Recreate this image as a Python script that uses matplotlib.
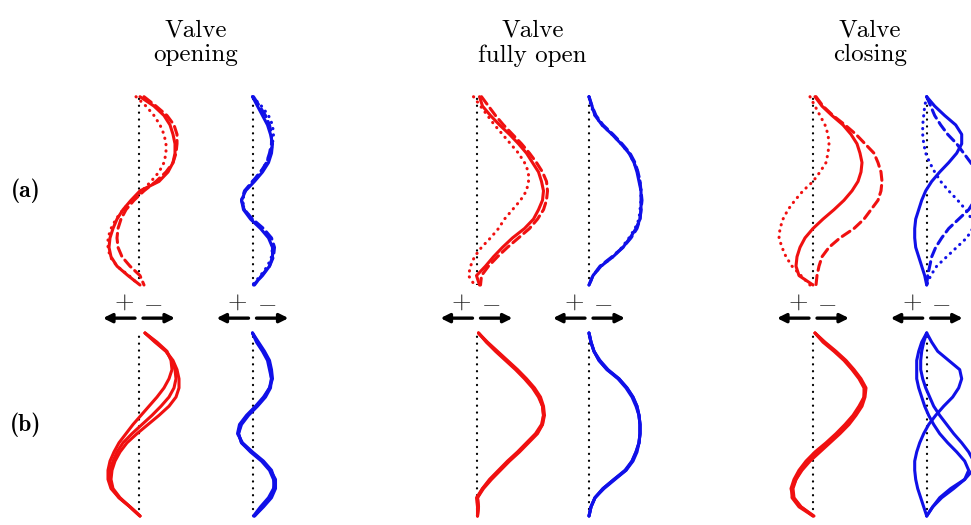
import matplotlib
import matplotlib.pyplot as plt

matplotlib.use("Agg")
plt.rcParams["mathtext.fontset"] = "cm"

# normalised height across the channel, top (1) to bottom (0)
ETA = [1.0, 0.95, 0.9, 0.85, 0.8, 0.75, 0.7, 0.65, 0.6, 0.55, 0.5,
       0.45, 0.4, 0.35, 0.3, 0.25, 0.2, 0.15, 0.1, 0.05, 0.0]

# (a) valve opening
open_a_red_solid = [1, 15, 25, 31, 34, 36, 36, 34, 29, 20, 1, -8, -16, -22, -26, -29, -30, -28, -22, -11, 1]
open_a_red_dashed = [5, 17, 28, 35, 38, 38, 37, 34, 27, 17, 5, -5, -13, -18, -21, -22, -21, -17, -9, 1, 5]
open_a_red_dotted = [-3, 7, 15, 21, 25, 27, 27, 25, 20, 12, 3, -7, -16, -23, -28, -31, -31, -29, -22, -10, 0]
open_a_blue_solid = [0, 5, 10, 15, 18, 20, 19, 16, 10, 2, -7, -11, -9, -2, 8, 16, 20, 20, 17, 10, 1]
open_a_blue_dashed = [1, 7, 13, 17, 19, 19, 17, 14, 8, 0, -8, -11, -8, 0, 11, 19, 22, 21, 17, 9, 2]
open_a_blue_dotted = [0, 9, 16, 20, 21, 20, 18, 14, 8, 0, -7, -10, -8, -1, 9, 17, 20, 19, 15, 8, 0]

# (a) valve fully open
full_a_red_solid = [3, 6, 14, 23, 33, 42, 50, 56, 62, 65, 67, 66, 62, 57, 48, 36, 26, 17, 9, 0, 3]
full_a_red_dashed = [5, 12, 19, 27, 36, 45, 53, 60, 66, 70, 71, 70, 67, 61, 53, 42, 31, 21, 12, 5, 4]
full_a_red_dotted = [-3, 4, 11, 18, 26, 34, 42, 48, 52, 52, 50, 44, 36, 28, 22, 14, 5, -2, -6, -8, -2]
full_a_blue_solid = [0, 3, 6, 13, 23, 32, 40, 45, 48, 50, 52, 52, 52, 51, 47, 41, 34, 24, 12, 4, 0]
full_a_blue_dashed = [0, 3, 7, 14, 24, 33, 41, 46, 49, 51, 52, 53, 52, 51, 48, 42, 34, 23, 11, 4, 0]
full_a_blue_dotted = [0, 2, 6, 13, 23, 32, 40, 45, 49, 51, 52, 52, 51, 50, 46, 40, 33, 24, 12, 4, 0]

# (a) valve closing
close_a_red_solid = [2, 9, 19, 30, 38, 44, 47, 49, 48, 45, 39, 31, 21, 10, 0, -8, -13, -16, -17, -14, 0]
close_a_red_dashed = [3, 10, 20, 32, 43, 52, 61, 65, 68, 69, 68, 65, 58, 51, 41, 27, 16, 9, 6, 4, 3]
close_a_red_dotted = [-3, 2, 7, 12, 15, 16, 15, 13, 7, 0, -10, -18, -25, -30, -33, -34, -31, -27, -21, -12, -3]
close_a_blue_solid = [0, 8, 18, 29, 35, 35, 30, 22, 13, 5, -1, -5, -8, -11, -12, -12, -11, -8, -5, -2, 0]
close_a_blue_dashed = [0, 4, 8, 14, 21, 30, 37, 44, 50, 53, 52, 48, 42, 32, 22, 15, 9, 5, 3, 1, 0]
close_a_blue_dotted = [0, -2, -3, -4, -4, -3, -1, 3, 8, 14, 22, 31, 39, 45, 46, 40, 30, 20, 10, 4, 0]

# (b) valve opening
open_b_red_1 = [6, 16, 27, 34, 38, 40, 40, 37, 30, 20, 9, -2, -12, -19, -24, -27, -28, -26, -19, -9, 1]
open_b_red_2 = [6, 18, 28, 32, 33, 30, 25, 18, 10, 2, -6, -13, -20, -25, -29, -31, -31, -28, -20, -9, 1]
open_b_red_3 = [6, 17, 27, 33, 36, 37, 35, 30, 22, 13, 3, -7, -16, -22, -26, -29, -29, -27, -20, -9, 1]
open_b_blue_1 = [0, 4, 10, 15, 17, 19, 18, 13, 5, -4, -11, -14, -11, -2, 9, 17, 21, 22, 18, 10, 2]
open_b_blue_2 = [0, 6, 12, 17, 19, 20, 17, 11, 3, -6, -13, -15, -10, 0, 11, 19, 22, 21, 16, 8, 1]
open_b_blue_3 = [0, 5, 11, 16, 18, 19, 17, 12, 4, -5, -12, -14, -11, -1, 10, 18, 23, 23, 19, 11, 2]

# (b) valve fully open
full_b_red_1 = [2, 10, 20, 30, 40, 49, 57, 63, 66, 67, 66, 60, 51, 42, 32, 23, 14, 6, 1, 2, 1]
full_b_red_2 = [2, 11, 21, 31, 41, 50, 58, 64, 67, 68, 66, 61, 52, 43, 33, 24, 15, 7, 1, 2, 1]
full_b_red_3 = [2, 10, 19, 29, 39, 48, 56, 62, 66, 67, 65, 59, 50, 41, 31, 22, 13, 6, 0, 1, 1]
full_b_blue_1 = [0, 2, 5, 10, 18, 30, 38, 44, 48, 50, 51, 51, 50, 47, 43, 37, 25, 14, 6, 2, 0]
full_b_blue_2 = [0, 2, 5, 11, 19, 30, 38, 44, 48, 50, 51, 51, 50, 48, 44, 37, 26, 15, 6, 2, 0]
full_b_blue_3 = [0, 2, 5, 10, 18, 29, 37, 43, 47, 50, 51, 51, 50, 47, 43, 36, 25, 14, 6, 2, 0]

# (b) valve closing
close_b_red_1 = [2, 10, 21, 31, 39, 46, 51, 51, 48, 42, 34, 25, 15, 4, -5, -12, -17, -20, -19, -12, 0]
close_b_red_2 = [2, 12, 23, 33, 41, 48, 53, 52, 49, 43, 36, 27, 17, 7, -3, -11, -17, -21, -21, -14, 0]
close_b_red_3 = [2, 11, 22, 32, 40, 47, 52, 51, 46, 40, 32, 23, 13, 2, -7, -14, -19, -22, -20, -12, 1]
close_b_blue_1 = [0, 5, 11, 22, 33, 35, 32, 26, 17, 9, 2, -3, -7, -10, -12, -12, -11, -9, -6, -3, 0]
close_b_blue_2 = [0, -5, -8, -10, -10, -10, -8, -5, -2, 2, 7, 13, 21, 30, 38, 42, 38, 27, 15, 6, 0]
close_b_blue_3 = [0, -3, -5, -6, -6, -4, -1, 3, 7, 13, 20, 27, 35, 42, 47, 46, 38, 24, 13, 6, 0]

COLUMN_TITLES = ["Valve\nopening", "Valve\nfully open", "Valve\nclosing"]
ROW_LABELS = ["(a)", "(b)"]

RED = "#f01010"
BLUE = "#1010e8"
LW = 2.2
STYLES = {
    "solid": "-",
    "dashed": (0, (3.0, 1.7)),
    "dotted": (0, (0.1, 2.0)),
}

W, H = 971, 525
fig = plt.figure(figsize=(W / 100, H / 100), dpi=100)

col_centers = [(139, 252.5), (476.5, 589), (813, 926.7)]
row_spans = [(96.7, 285), (333, 516)]


def profile_axes(cx, top, bottom):
    ax = fig.add_axes([(cx - 50) / W, 1 - bottom / H, 130 / W, (bottom - top) / H])
    ax.set_xlim(-50, 80)
    ax.set_ylim(0, 1)
    ax.axis("off")
    ax.axvline(0, color="black", lw=1.6, linestyle=(0, (0.1, 3.0)),
               dash_capstyle="round")
    return ax


def draw_curve(ax, values, color, style):
    ax.plot(values, ETA, color=color, lw=LW, linestyle=STYLES[style],
            dash_capstyle="round", solid_capstyle="round",
            solid_joinstyle="round", clip_on=False)


def draw_signs(ax):
    tr = ax.get_xaxis_transform()
    y_arrow = -0.176
    for x0, x1 in [(-4, -36), (4, 36)]:
        ax.annotate("", xy=(x1, y_arrow), xytext=(x0, y_arrow), xycoords=tr,
                    arrowprops=dict(arrowstyle="-|>", color="black", lw=2.4,
                                    mutation_scale=13, shrinkA=0, shrinkB=0),
                    annotation_clip=False)
    ax.text(-15, -0.088, r"$+$", transform=tr, ha="center", va="center",
            fontsize=18, color="#222222")
    ax.text(14, -0.095, r"$-$", transform=tr, ha="center", va="center",
            fontsize=18, color="#222222")


panel_a = [
    (open_a_red_solid, open_a_red_dashed, open_a_red_dotted),
    (open_a_blue_solid, open_a_blue_dashed, open_a_blue_dotted),
    (full_a_red_solid, full_a_red_dashed, full_a_red_dotted),
    (full_a_blue_solid, full_a_blue_dashed, full_a_blue_dotted),
    (close_a_red_solid, close_a_red_dashed, close_a_red_dotted),
    (close_a_blue_solid, close_a_blue_dashed, close_a_blue_dotted),
]
panel_b = [
    (open_b_red_1, open_b_red_2, open_b_red_3),
    (open_b_blue_1, open_b_blue_2, open_b_blue_3),
    (full_b_red_1, full_b_red_2, full_b_red_3),
    (full_b_blue_1, full_b_blue_2, full_b_blue_3),
    (close_b_red_1, close_b_red_2, close_b_red_3),
    (close_b_blue_1, close_b_blue_2, close_b_blue_3),
]

centers = [c for pair in col_centers for c in pair]
for i, cx in enumerate(centers):
    color = RED if i % 2 == 0 else BLUE
    ax = profile_axes(cx, *row_spans[0])
    for values, style in zip(panel_a[i], ["solid", "dashed", "dotted"]):
        draw_curve(ax, values, color, style)
    draw_signs(ax)
    ax = profile_axes(cx, *row_spans[1])
    for values in panel_b[i]:
        draw_curve(ax, values, color, "solid")

for (c1, c2), title in zip(col_centers, COLUMN_TITLES):
    fig.text((c1 + c2) / 2 / W, 1 - 43 / H, title, ha="center", va="center",
             family="cmr10", fontsize=18, linespacing=1.15)

for (top, bottom), label in zip(row_spans, ROW_LABELS):
    fig.text(26 / W, 1 - (top + bottom) / 2 / H, label, ha="center",
             va="center", family="cmb10", fontsize=17)

fig.savefig("out.png", dpi=100)
